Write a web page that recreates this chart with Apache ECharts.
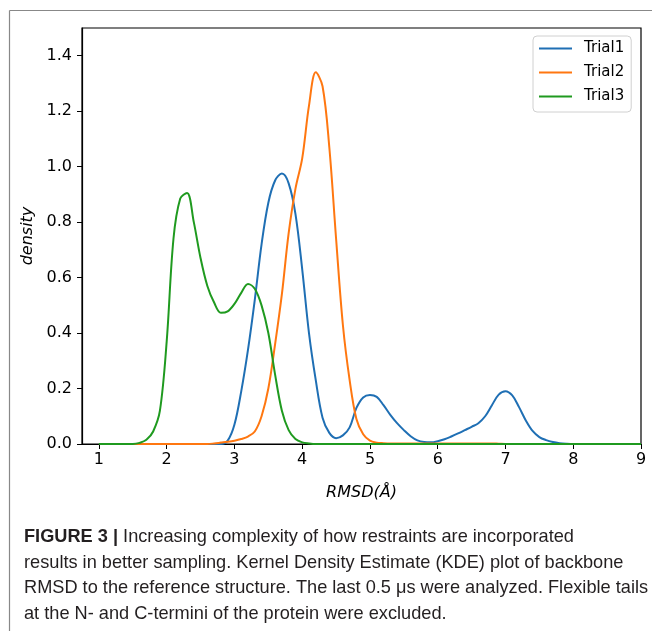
<!DOCTYPE html>
<html>
<head>
<meta charset="utf-8">
<script src="https://cdn.jsdelivr.net/npm/echarts@6/dist/echarts.min.js"></script>
<style>
  html, body { margin: 0; padding: 0; background: #fff; }
  #box { width: 652px; height: 631px; }
</style>
</head>
<body>
<div id="box"></div>
<script>
// RMSD grid (Å)
const rmsd = [
  1.0, 1.1, 1.2, 1.3, 1.4, 1.5, 1.6, 1.7, 1.8, 1.9,
  2.0, 2.1, 2.2, 2.3, 2.4, 2.5, 2.6, 2.7, 2.8, 2.9,
  3.0, 3.1, 3.2, 3.3, 3.4, 3.5, 3.6, 3.7, 3.8, 3.9,
  4.0, 4.1, 4.2, 4.3, 4.4, 4.5, 4.6, 4.7, 4.8, 4.9,
  5.0, 5.1, 5.2, 5.3, 5.4, 5.5, 5.6, 5.7, 5.8, 5.9,
  6.0, 6.1, 6.2, 6.3, 6.4, 6.5, 6.6, 6.7, 6.8, 6.9,
  7.0, 7.1, 7.2, 7.3, 7.4, 7.5, 7.6, 7.7, 7.8, 7.9,
  8.0, 8.5, 9.0
];
const trial1 = [
  0, 0, 0, 0, 0, 0, 0, 0, 0, 0,
  0, 0, 0, 0, 0, 0, 0, 0, 0, 0.012,
  0.07, 0.19, 0.34, 0.52, 0.72, 0.87, 0.95, 0.975, 0.94, 0.83,
  0.63, 0.40, 0.23, 0.095, 0.04, 0.021, 0.031, 0.06, 0.13, 0.168,
  0.177, 0.17, 0.14, 0.105, 0.075, 0.05, 0.028, 0.013, 0.007, 0.006,
  0.01, 0.017, 0.027, 0.038, 0.05, 0.062, 0.075, 0.10, 0.14, 0.178,
  0.19, 0.175, 0.133, 0.085, 0.047, 0.025, 0.014, 0.007, 0.003, 0.001,
  0, 0, 0
];
const trial2 = [
  0, 0, 0, 0, 0, 0, 0, 0, 0, 0,
  0, 0, 0, 0, 0, 0, 0, 0.002, 0.005, 0.008,
  0.012, 0.018, 0.027, 0.045, 0.10, 0.20, 0.36, 0.54, 0.76, 0.92,
  1.03, 1.22, 1.34, 1.29, 1.07, 0.74, 0.43, 0.23, 0.09, 0.035,
  0.012, 0.005, 0.003, 0.002, 0.002, 0.002, 0.002, 0.002, 0.002, 0.002,
  0.002, 0.002, 0.002, 0.002, 0.002, 0.002, 0.002, 0.002, 0.002, 0.001,
  0, 0, 0, 0, 0, 0, 0, 0, 0, 0,
  0, 0, 0
];
const trial3 = [
  0, 0, 0, 0, 0, 0, 0.004, 0.015, 0.045, 0.12,
  0.37, 0.74, 0.885, 0.905, 0.80, 0.67, 0.57, 0.51, 0.473, 0.478,
  0.505, 0.545, 0.577, 0.56, 0.50, 0.40, 0.25, 0.12, 0.05, 0.018,
  0.006, 0.002, 0, 0, 0, 0, 0, 0, 0, 0,
  0, 0, 0, 0, 0, 0, 0, 0, 0, 0,
  0, 0, 0, 0, 0, 0, 0, 0, 0, 0,
  0, 0, 0, 0, 0, 0, 0, 0, 0, 0,
  0, 0, 0
];
const seriesNames = ['Trial1', 'Trial2', 'Trial3'];
const xTicks = [1, 2, 3, 4, 5, 6, 7, 8, 9];
const yTicks = [0, 0.2, 0.4, 0.6, 0.8, 1.0, 1.2, 1.4];
const caption = [
  '{b|FIGURE 3 |} Increasing complexity of how restraints are incorporated',
  'results in better sampling. Kernel Density Estimate (KDE) plot of backbone',
  'RMSD to the reference structure. The last 0.5 μs were analyzed. Flexible tails',
  'at the N- and C-termini of the protein were excluded.'
];

const colors = ['#1f6fb4', '#ff7710', '#1f9a1f'];
const pair = ys => rmsd.map((x, i) => [x, ys[i]]);

let myecharts = echarts.init(document.getElementById('box'));
const axisFont = {fontFamily: 'DejaVu Sans', fontSize: 16, color: '#000'};

let option = {
  animation: false,
  backgroundColor: '#fff',
  color: colors,
  grid: {
    left: 82, top: 28, right: 11, bottom: 187,
    show: true, borderColor: '#000', borderWidth: 1.2, backgroundColor: 'transparent'
  },
  legend: {
    data: seriesNames,
    orient: 'vertical',
    left: 533, top: 36,
    padding: [5, 7, 8, 5],
    itemWidth: 33, itemHeight: 14, itemGap: 9,
    itemStyle: {opacity: 0},
    lineStyle: {width: 2},
    borderColor: '#d0d0d0', borderWidth: 1, borderRadius: 4,
    backgroundColor: '#fff',
    textStyle: {fontFamily: 'DejaVu Sans', fontSize: 15, color: '#000', padding: [0, 0, 0, 7]}
  },
  xAxis: {
    type: 'value', min: 0.75, max: 9,
    name: 'RMSD(Å)', nameLocation: 'middle', nameGap: 41,
    nameTextStyle: Object.assign({}, axisFont, {fontStyle: 'italic'}),
    splitLine: {show: false},
    axisLine: {onZero: false, lineStyle: {color: '#000', width: 1.2}},
    axisTick: {customValues: xTicks, length: 5, lineStyle: {color: '#000'}},
    axisLabel: Object.assign({customValues: xTicks, margin: 8}, axisFont)
  },
  yAxis: {
    type: 'value', min: 0, max: 1.5,
    name: 'density', nameLocation: 'middle', nameGap: 42,
    nameTextStyle: Object.assign({}, axisFont, {fontStyle: 'italic'}),
    splitLine: {show: false},
    axisLine: {show: true, lineStyle: {color: '#000', width: 1.2}},
    axisTick: {customValues: yTicks, length: 5, lineStyle: {color: '#000'}},
    axisLabel: Object.assign({customValues: yTicks, margin: 10, formatter: v => v.toFixed(1)}, axisFont)
  },
  series: [trial1, trial2, trial3].map((ys, i) => ({
    name: seriesNames[i],
    type: 'line',
    data: pair(ys),
    symbol: 'none',
    smooth: 0.35,
    lineStyle: {width: 2}
  })),
  graphic: [
    {type: 'line', shape: {x1: 9.5, y1: 10.5, x2: 652, y2: 10.5}, style: {stroke: '#888', lineWidth: 1.2}},
    {type: 'line', shape: {x1: 9.5, y1: 10.5, x2: 9.5, y2: 631}, style: {stroke: '#888', lineWidth: 1.2}},
    {
      type: 'text', left: 24, top: 524,
      style: {
        text: caption.join('\n'),
        fontFamily: 'Liberation Sans', fontSize: 18.2, lineHeight: 25.7, fill: '#231f20',
        rich: {b: {fontFamily: 'Liberation Sans', fontSize: 18.2, fontWeight: 'bold', lineHeight: 25.7, fill: '#231f20'}}
      }
    }
  ]
};
myecharts.setOption(option);

window.onresize = function () {
  myecharts.resize();
};
</script>
</body>
</html>
